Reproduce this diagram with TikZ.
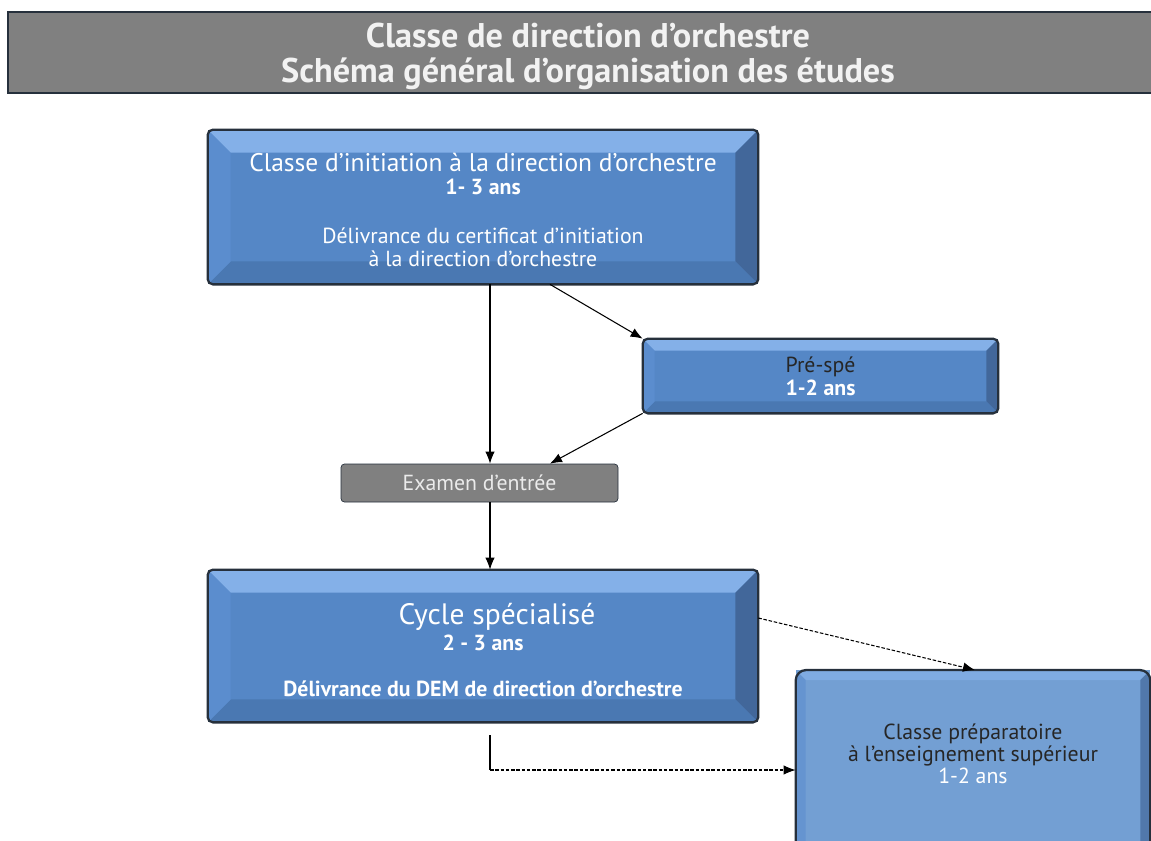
\documentclass[tikz,border=0pt]{standalone}
\usepackage{fontspec}
\setmainfont{PT Sans}
\usetikzlibrary{arrows.meta,calc}
\definecolor{boxblue}{HTML}{5587C6}
\definecolor{bevtop}{HTML}{84B0E8}
\definecolor{bevleft}{HTML}{5B8DCE}
\definecolor{bevright}{HTML}{42679A}
\definecolor{bevbot}{HTML}{4A78B2}
\definecolor{prepblue}{HTML}{739FD3}
\definecolor{edge}{HTML}{26303C}
\definecolor{bargrey}{HTML}{808080}
\tikzset{
  bluebox/.style={fill=boxblue, text=white, align=center, inner sep=0pt},
  greybox/.style={fill=bargrey, draw=edge, rounded corners=2pt, text=white!92!black, align=center, inner sep=0pt},
  link/.style={black, line width=0.6pt, -{Latex[length=2.4mm,width=1.9mm]}},
  dashlink/.style={link, dash pattern=on 2pt off 1pt},
}
\newcommand{\bigf}{\fontsize{14.5}{13.5}\selectfont}
\newcommand{\smallf}{\fontsize{12.4}{13.3}\selectfont}
% bevel round a named box: #1 node, #2 bevel width
\newcommand{\bevelbox}[2]{
  \path (#1.north west) coordinate (o1) (#1.north east) coordinate (o2)
        (#1.south east) coordinate (o3) (#1.south west) coordinate (o4);
  \path ($(o1)+(#2,-#2)$) coordinate (i1) ($(o2)+(-#2,-#2)$) coordinate (i2)
        ($(o3)+(-#2,#2)$) coordinate (i3) ($(o4)+(#2,#2)$) coordinate (i4);
  \begin{scope}
    \clip[rounded corners=3pt] (o1) rectangle (o3);
    \fill[bevtop]   (o1) -- (o2) -- (i2) -- (i1) -- cycle;
    \fill[bevright] (o2) -- (o3) -- (i3) -- (i2) -- cycle;
    \fill[bevbot]   (o3) -- (o4) -- (i4) -- (i3) -- cycle;
    \fill[bevleft]  (o4) -- (o1) -- (i1) -- (i4) -- cycle;
  \end{scope}
  \draw[edge, line width=1.3pt, rounded corners=3pt] (o1) rectangle (o3);
}

\begin{document}
\begin{tikzpicture}
  \useasboundingbox (0,0) rectangle (23.02,-16.82);

  % title bar
  \node[fill=bargrey, draw=edge, line width=1.2pt, minimum width=23.2cm, minimum height=1.62cm,
        inner sep=0pt, text=white!95!black, align=center, font=\fontsize{19.5}{20}\selectfont\bfseries]
    (title) at (11.76,-1.05) {};
  \node[align=center, inner sep=0pt, text=white!95!black, font=\fontsize{19.5}{20}\selectfont\bfseries]
    (titletext) at ([yshift=-0.07cm]title) {Classe de direction d’orchestre\\Schéma général d’organisation des études};

  % boxes
  \node[bluebox, minimum width=11cm, minimum height=3.08cm] (init) at (9.66,-4.14) {};
  \bevelbox{init}{0.46}
  \node[align=center, text=white, inner sep=0pt] (inittext) at ([yshift=-0.06cm]init)
    {\bigf Classe d’initiation à la direction d’orchestre\\[1.2pt]
     \smallf\bfseries 1- 3 ans\\[16pt]
     \smallf Délivrance du certificat d’initiation\\[1pt]
     \smallf à la direction d’orchestre};

  \node[bluebox, minimum width=7.1cm, minimum height=1.48cm] (prespe) at (16.41,-7.52) {};
  \bevelbox{prespe}{0.24}
  \node[align=center, inner sep=0pt] (prespetext) at (prespe)
    {\smallf\color{black!85}Pré-spé\\[1.2pt]
     \smallf\bfseries\color{white}1-2 ans};

  \node[greybox, minimum width=5.54cm, minimum height=0.76cm, font=\smallf]
    (exam) at (9.59,-9.66) {Examen d’entrée};

  \node[bluebox, minimum width=11cm, minimum height=3.04cm] (cycle) at (9.66,-12.92) {};
  \bevelbox{cycle}{0.46}
  \node[align=center, text=white, inner sep=0pt] (cycletext) at ([yshift=-0.08cm]cycle)
    {\fontsize{16.8}{14}\selectfont\hspace*{0.56cm}Cycle spécialisé\\[1.3pt]
     \smallf\bfseries 2 - 3 ans\\[14.5pt]
     \smallf\bfseries Délivrance du DEM de direction d’orchestre};

  \node[bluebox, fill=prepblue, minimum width=7.08cm, minimum height=3.7cm, anchor=north] (prep) at (19.46,-13.4) {};
  \begin{scope}
    \clip[rounded corners=6pt] (prep.north west) rectangle (prep.south east);
    \fill[bevtop!70!prepblue] (prep.north west) -- (prep.north east) -- ++(-0.2,-0.2) -- ($(prep.north west)+(0.2,-0.2)$) -- cycle;
    \fill[bevright!70!prepblue] (prep.north east) -- (prep.south east) -- ++(-0.2,0.2) -- ($(prep.north east)+(-0.2,-0.2)$) -- cycle;
    \fill[bevleft!60!prepblue] (prep.north west) -- (prep.south west) -- ++(0.2,0.2) -- ($(prep.north west)+(0.2,-0.2)$) -- cycle;
  \end{scope}
  \draw[edge, line width=1.3pt, rounded corners=6pt] (prep.north west) rectangle (prep.south east);
  \node[align=center, inner sep=0pt] (preptext) at (19.46,-15.08)
    {\smallf\color{black!85}Classe préparatoire\\[0.6pt]
     \smallf\color{black!85}à l’enseignement supérieur\\[0.6pt]
     \smallf\color{white}1-2 ans};

  % connectors
  \draw[link] ([xshift=0.14cm]init.south) -- ([xshift=0.21cm]exam.north);
  \draw[link] ([xshift=1.34cm]init.south) -- (prespe.north west);
  \draw[link] (prespe.south west) -- ([xshift=1.41cm]exam.north);
  \draw[link] ([xshift=0.21cm]exam.south) -- ([xshift=0.14cm]cycle.north);
  \draw[dashlink] ([yshift=0.56cm]cycle.east) -- ([xshift=0.04cm]prep.north);
  \coordinate (dstart) at (9.8,-14.7);
  \coordinate (dcorner) at (9.8,-15.4);
  \draw[line width=0.6pt] (dstart) -- (dcorner);
  \draw[dashlink] (dcorner) -- (prep.west |- dcorner);
\end{tikzpicture}
\end{document}
